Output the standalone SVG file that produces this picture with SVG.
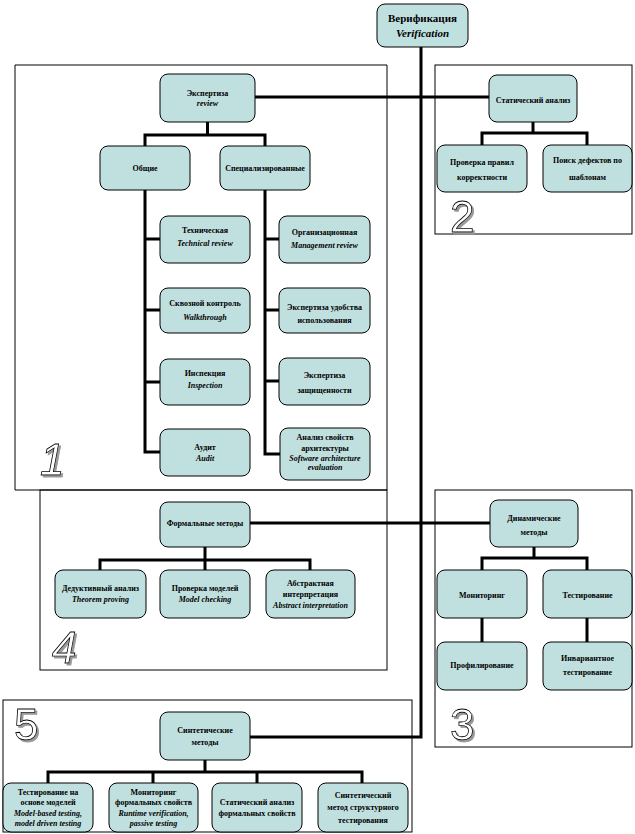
<svg xmlns="http://www.w3.org/2000/svg" width="635" height="834" viewBox="0 0 635 834">
<style>
.reg{fill:none;stroke:#000;stroke-width:1}
.n{fill:#c0e0e0;stroke:#000;stroke-width:1}
.c{fill:none;stroke:#000;stroke-width:3}
text{font-family:"Liberation Serif","Times New Roman",serif;font-size:8px;font-weight:bold;text-anchor:middle;fill:#000}
.i{font-style:italic}
.big{font-size:11px}
.num{font-family:"Liberation Sans",Arial,sans-serif;font-size:44px;font-weight:normal;text-anchor:start;fill:#fff;stroke:#000;stroke-width:0.8;filter:url(#shadow)}
</style>
<defs>
<filter id="shadow" x="-20%" y="-20%" width="160%" height="160%">
<feFlood flood-color="#999"/>
<feComposite in2="SourceAlpha" operator="in"/>
<feOffset dx="2" dy="2" result="s"/>
<feMerge><feMergeNode in="s"/><feMergeNode in="SourceGraphic"/></feMerge>
</filter>
</defs>
<rect width="635" height="834" fill="#fff"/>
<g id="regions">
<path class="reg" d="M15,65 H387 V490 H15 Z"/>
<rect class="reg" x="40" y="490" width="347" height="180"/>
<rect class="reg" x="435" y="65" width="197" height="169"/>
<rect class="reg" x="435" y="490" width="197" height="257"/>
<rect class="reg" x="3" y="700" width="409" height="132"/>
</g>
<g id="region-numbers">
<text class="num i" x="40" y="475">1</text>
<text class="num" x="450" y="232">2</text>
<text class="num" x="450" y="740">3</text>
<text class="num i" x="52" y="663">4</text>
<text class="num" x="14" y="740">5</text>
</g>
<g id="connectors">
<path class="c" d="M421,47 V737 H250"/>
<path class="c" d="M255,97 H489"/>
<path class="c" d="M250,523 H490"/>
<path class="c" d="M207.5,122 V135 M145,146 V135 H265 V146"/>
<path class="c" d="M145,190 V452 H160 M145,239 H160 M145,310 H160 M145,382 H160"/>
<path class="c" d="M265,190 V454 H280 M265,239 H279 M265,310 H279 M265,381 H279"/>
<path class="c" d="M533,122 V133 M482,145 V133 H587 V145"/>
<path class="c" d="M205,547 V560 M100,570 V560 H310 V570 M205,560 V570"/>
<path class="c" d="M534,547 V558 M482,570 V558 H587 V570 M482,618 V642 M587,618 V642"/>
<path class="c" d="M205,760 V772 M48,783 V772 H362 V783 M153,772 V783 M257,772 V783"/>
</g>
<g id="verification"><rect class="n" x="377" y="4" width="91" height="43" rx="8"/><text class="big" x="422.5" y="22">Верификация</text><text class="big i" x="422.5" y="37">Verification</text></g>
<g id="review"><rect class="n" x="160" y="74" width="95" height="48" rx="8"/><text x="207.5" y="96">Экспертиза</text><text class="i" x="207.5" y="106">review</text></g>
<g id="general"><rect class="n" x="100" y="146" width="90" height="44" rx="8"/><text x="145" y="171">Общие</text></g>
<g id="special"><rect class="n" x="220" y="146" width="90" height="44" rx="8"/><text x="265" y="171">Специализированные</text></g>
<g id="technical"><rect class="n" x="160" y="216" width="90" height="47" rx="8"/><text x="205" y="233">Техническая</text><text class="i" x="205" y="246">Technical review</text></g>
<g id="walkthrough"><rect class="n" x="160" y="288" width="90" height="45" rx="8"/><text x="205" y="306">Сквозной контроль</text><text class="i" x="205" y="320">Walkthrough</text></g>
<g id="inspection"><rect class="n" x="160" y="359" width="90" height="46" rx="8"/><text x="205" y="376">Инспекция</text><text class="i" x="205" y="388">Inspection</text></g>
<g id="audit"><rect class="n" x="160" y="429" width="90" height="47" rx="8"/><text x="205" y="450">Аудит</text><text class="i" x="205" y="461">Audit</text></g>
<g id="management"><rect class="n" x="279" y="216" width="91" height="47" rx="8"/><text x="324.5" y="235">Организационная</text><text class="i" x="324.5" y="248">Management review</text></g>
<g id="usability"><rect class="n" x="279" y="288" width="91" height="45" rx="8"/><text x="324.5" y="310">Экспертиза удобства</text><text x="324.5" y="323">использования</text></g>
<g id="security"><rect class="n" x="279" y="358" width="91" height="47" rx="8"/><text x="324.5" y="378">Экспертиза</text><text x="324.5" y="393">защищенности</text></g>
<g id="architecture"><rect class="n" x="280" y="428" width="90" height="52" rx="8"/><text x="325" y="440">Анализ свойств</text><text x="325" y="451">архитектуры</text><text class="i" x="325" y="461">Software architecture</text><text class="i" x="325" y="470">evaluation</text></g>
<g id="static"><rect class="n" x="489" y="75" width="88" height="47" rx="8"/><text x="533" y="103">Статический анализ</text></g>
<g id="rules"><rect class="n" x="437" y="145" width="90" height="47" rx="8"/><text x="482" y="165">Проверка правил</text><text x="482" y="180">корректности</text></g>
<g id="patterns"><rect class="n" x="543" y="145" width="89" height="47" rx="8"/><text x="587.5" y="163">Поиск дефектов по</text><text x="587.5" y="180">шаблонам</text></g>
<g id="formal"><rect class="n" x="160" y="502" width="90" height="45" rx="8"/><text x="205" y="526">Формальные методы</text></g>
<g id="theorem"><rect class="n" x="55" y="570" width="91" height="48" rx="8"/><text x="100.5" y="591">Дедуктивный анализ</text><text class="i" x="100.5" y="602">Theorem proving</text></g>
<g id="modelcheck"><rect class="n" x="160" y="570" width="90" height="48" rx="8"/><text x="205" y="591">Проверка моделей</text><text class="i" x="205" y="602">Model checking</text></g>
<g id="abstract"><rect class="n" x="266" y="570" width="89" height="48" rx="8"/><text x="310.5" y="586">Абстрактная</text><text x="310.5" y="597">интерпретация</text><text class="i" x="310.5" y="608">Abstract interpretation</text></g>
<g id="dynamic"><rect class="n" x="490" y="500" width="88" height="47" rx="8"/><text x="534" y="521">Динамические</text><text x="534" y="535">методы</text></g>
<g id="monitoring"><rect class="n" x="437" y="570" width="90" height="48" rx="8"/><text x="482" y="598">Мониторинг</text></g>
<g id="testing"><rect class="n" x="543" y="570" width="89" height="48" rx="8"/><text x="587.5" y="598">Тестирование</text></g>
<g id="profiling"><rect class="n" x="437" y="642" width="90" height="48" rx="8"/><text x="482" y="668">Профилирование</text></g>
<g id="invariant"><rect class="n" x="543" y="642" width="89" height="48" rx="8"/><text x="587.5" y="661">Инвариантное</text><text x="587.5" y="675">тестирование</text></g>
<g id="synthetic"><rect class="n" x="160" y="712" width="90" height="48" rx="8"/><text x="205" y="733">Синтетические</text><text x="205" y="745">методы</text></g>
<g id="modelbased"><rect class="n" x="3" y="783" width="90" height="49" rx="8"/><text x="48" y="795">Тестирование на</text><text x="48" y="805">основе моделей</text><text class="i" x="48" y="816">Model-based testing,</text><text class="i" x="48" y="826">model driven testing</text></g>
<g id="runtime"><rect class="n" x="109" y="783" width="89" height="49" rx="8"/><text x="153.5" y="795">Мониторинг</text><text x="153.5" y="805">формальных свойств</text><text class="i" x="153.5" y="816">Runtime verification,</text><text class="i" x="153.5" y="826">passive testing</text></g>
<g id="staticformal"><rect class="n" x="212" y="783" width="90" height="49" rx="8"/><text x="257" y="805">Статический анализ</text><text x="257" y="816">формальных свойств</text></g>
<g id="structural"><rect class="n" x="318" y="783" width="90" height="49" rx="8"/><text x="363" y="798">Синтетический</text><text x="363" y="810">метод структурного</text><text x="363" y="823">тестирования</text></g>
</svg>
